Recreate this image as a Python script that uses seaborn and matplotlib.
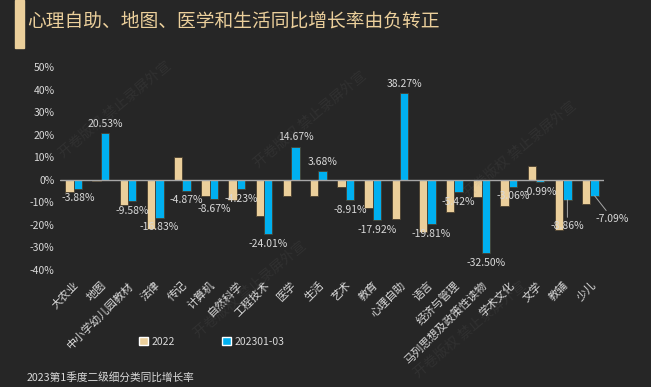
import numpy as np
import pandas as pd
import seaborn as sns
from matplotlib import pyplot as plt
from matplotlib.patches import Rectangle, Patch

# data
categories = ["大农业", "地图", "中小学幼儿园教材", "法律", "传记", "计算机", "自然科学",
              "工程技术", "医学", "生活", "艺术", "教育", "心理自助", "语言", "经济与管理",
              "马列思想及政策性读物", "学术文化", "文学", "教辅", "少儿"]
growth_2022 = [-5.3, -0.6, -11.3, -21.8, 10.0, -7.1, -8.9, -16.2, -7.1, -7.4, -3.1,
               -12.4, -17.3, -23.2, -14.3, -7.8, -11.8, 5.9, -22.4, -10.6]
growth_2023q1 = [-3.88, 20.53, -9.58, -16.83, -4.87, -8.67, -4.23, -24.01, 14.67, 3.68,
                 -8.91, -17.92, 38.27, -19.81, -5.42, -32.50, -3.06, -0.99, -8.86, -7.09]
series_names = ["2022", "202301-03"]
y_ticks = [-40, -30, -20, -10, 0, 10, 20, 30, 40, 50]

title = "心理自助、地图、医学和生活同比增长率由负转正"
footnote = "2023第1季度二级细分类同比增长率"
watermark = "开卷版权 禁止录屏外宣"

bg = "#262626"
tan = "#EBCF9B"
blue = "#00B0F0"
text_col = "#D9D9D9"

df = pd.DataFrame({
    "category": categories * 2,
    "series": [series_names[0]] * len(categories) + [series_names[1]] * len(categories),
    "value": growth_2022 + growth_2023q1,
})

sns.set_theme(style="white")
plt.rcParams['font.family'] = ['Noto Sans CJK SC', 'DejaVu Sans']
plt.rcParams['axes.unicode_minus'] = False

fig = plt.figure(figsize=(6.51, 3.87), dpi=100, facecolor=bg)
ax = fig.add_axes([60 / 651, 1 - 270 / 387, 544 / 651, 203 / 387])
ax.set_facecolor(bg)

sns.barplot(data=df, x="category", y="value", hue="series", palette=[tan, blue],
            saturation=1, width=0.62, gap=0, edgecolor="#4a4030", linewidth=0.6,
            legend=False, ax=ax)

ax.set_ylim(-40, 50)
ax.set_yticks(y_ticks)
ax.set_yticklabels([f"{t}%" for t in y_ticks], color=text_col, fontsize=7.5)
ax.tick_params(axis="y", length=0, pad=4)
ax.tick_params(axis="x", length=0, pad=7)
plt.setp(ax.get_xticklabels(), rotation=45, ha="right", rotation_mode="anchor",
         color=text_col, fontsize=8)
ax.set_xlabel("")
ax.set_ylabel("")
for s in ax.spines.values():
    s.set_visible(False)
ax.axhline(0, color="#A6A6A6", lw=1, zorder=3)

# data labels for the 2023 series
label_offsets = {"教辅": (0, -15), "少儿": (13, -13)}
for cat, val, p in zip(categories, growth_2023q1, ax.containers[1]):
    x = p.get_x() + p.get_width() / 2
    if cat in label_offsets:
        dx, dy = label_offsets[cat]
        ax.annotate(f"{val:.2f}%", (x, val), xytext=(dx, dy), textcoords="offset points",
                    ha="center", va="top", fontsize=7.5, color=text_col,
                    arrowprops=dict(arrowstyle="-", color="#A6A6A6", lw=0.7,
                                    shrinkA=0, shrinkB=0))
    else:
        dy = 7 if val > 0 else -7
        ax.annotate(f"{val:.2f}%", (x, val), xytext=(0, dy), textcoords="offset points",
                    ha="center", va="center", fontsize=7.5, color=text_col)

# title with accent bar
fig.patches.append(Rectangle((15 / 651, 1 - 48 / 387), 9 / 651, 48 / 387,
                             transform=fig.transFigure, color=tan))
fig.text(27 / 651, 1 - 21 / 387, title, color=tan, fontsize=13.5, va="center", ha="left")

# legend
handles = [Patch(facecolor=tan), Patch(facecolor=blue)]
fig.legend(handles, series_names, loc="center", bbox_to_anchor=(212 / 651, 1 - 342 / 387),
           ncol=2, frameon=False, fontsize=7.5, labelcolor=text_col, handlelength=0.8,
           handleheight=0.8, handletextpad=0.4, columnspacing=4.5)

fig.text(27 / 651, 1 - 377 / 387, footnote, color=text_col, fontsize=7.7, va="center")

# faint watermark
for wx, wy in [(115, 110), (310, 120), (520, 150), (250, 290), (470, 330)]:
    fig.text(wx / 651, 1 - wy / 387, watermark, color="#808080", alpha=0.12, fontsize=10,
             rotation=40, ha="center", va="center")

fig.savefig("out.png", dpi=100, facecolor=bg)
